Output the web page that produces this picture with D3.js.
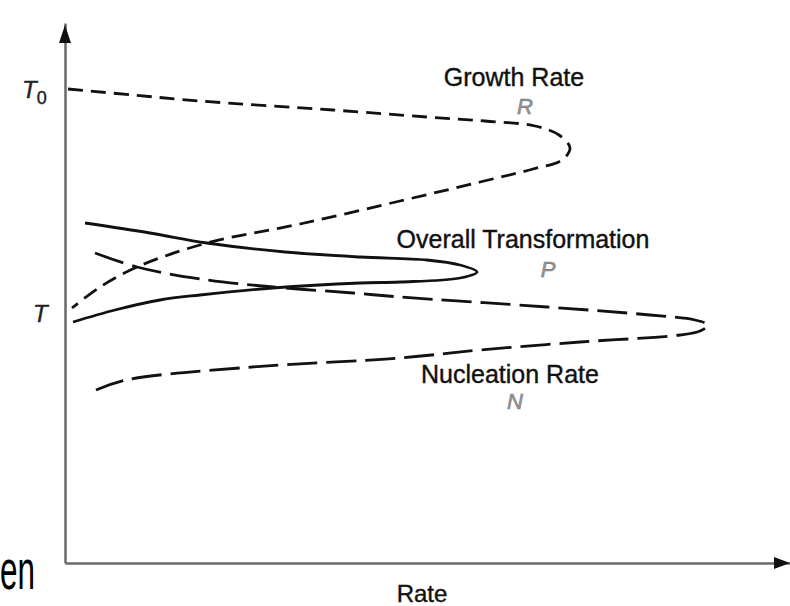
<!DOCTYPE html>
<html>
<head>
<meta charset="utf-8">
<script src="https://cdn.jsdelivr.net/npm/d3@7"></script>
<style>
  html, body { margin: 0; padding: 0; background: #fff; }
  svg { display: block; }
  text { font-family: "Liberation Sans", Arial, Helvetica, sans-serif; }
</style>
</head>
<body>
<svg id="chart" width="790" height="606"></svg>
<script>
// ---- data (rate, temperature) in arbitrary chart units ----
const growthRate = [
  [3,474],[68,468],[135,462],[268,453],[362,446],[420,442],[470,437],
  [494,428],[505,415],[497,403],[468,394],[415,381],[335,362],[235,339],
  [142,320],[72,296],[35,276],[7,255]
];
const overallTransformation = [
  [20,340],[85,330],[142,320],[220,311],[295,306],[362,303],[395,298],
  [412,291],[395,285],[335,281],[295,280],[208,275],[135,268],[95,263],
  [50,253],[8,241]
];
const nucleationRate = [
  [30,310],[72,296],[135,284],[208,276],[288,270],[335,266],[482,256],[585,248],
  [630,243],[643,238],[635,232],[615,228],[515,221],[415,213],[335,205],
  [187,196],[61,183],[31,173]
];
const tempTicks = [
  { name: "T", sub: "0", value: 475 },
  { name: "T", sub: "",  value: 251 }
];
const curveLabels = [
  { title: "Growth Rate",            symbol: "R", tx: 514, ty: 86,  sx: 525, sy: 114 },
  { title: "Overall Transformation", symbol: "P", tx: 523, ty: 248, sx: 548, sy: 277 },
  { title: "Nucleation Rate",        symbol: "N", tx: 510, ty: 383, sx: 515, sy: 409 }
];
const xAxisTitle = "Rate";

// ---- scales ----
const svg = d3.select("#chart");
const x = d3.scaleLinear().domain([0, 725]).range([65, 790]);
const y = d3.scaleLinear().domain([0, 540]).range([563, 23]);

// ---- axes ----
const axisColor = "#6a6a6a";
const gx = svg.append("g").attr("transform", `translate(0,${y(0)})`)
  .call(d3.axisBottom(x).tickValues([]).tickSizeOuter(0));
gx.select(".domain").attr("stroke", axisColor).attr("stroke-width", 2.5);
const gy = svg.append("g").attr("transform", `translate(${x(0)},0)`)
  .call(d3.axisLeft(y).tickValues([]).tickSizeOuter(0));
gy.select(".domain").attr("stroke", axisColor).attr("stroke-width", 2.5);

// arrowheads
const xEnd = x.range()[1], yEnd = y.range()[1];
svg.append("path")
  .attr("d", `M${xEnd},${y(0)} L${xEnd-16},${y(0)-6} L${xEnd-16},${y(0)+6} Z`)
  .attr("fill", "#111");
svg.append("path")
  .attr("d", `M${x(0)},${yEnd+2} L${x(0)-6},${yEnd+20} L${x(0)+6},${yEnd+20} Z`)
  .attr("fill", "#111");

// ---- curves ----
const line = d3.line()
  .x(d => x(d[0])).y(d => y(d[1]))
  .curve(d3.curveCatmullRom.alpha(0.5));

svg.append("path").datum(growthRate)
  .attr("d", line).attr("fill", "none").attr("stroke", "#111")
  .attr("stroke-width", 2.8).attr("stroke-dasharray", "15,8");
svg.append("path").datum(overallTransformation)
  .attr("d", line).attr("fill", "none").attr("stroke", "#111")
  .attr("stroke-width", 2.8);
svg.append("path").datum(nucleationRate)
  .attr("d", line).attr("fill", "none").attr("stroke", "#111")
  .attr("stroke-width", 2.8).attr("stroke-dasharray", "30,9");

// ---- temperature labels ----
tempTicks.forEach(t => {
  const txt = svg.append("text")
    .attr("x", t.sub ? 22 : 33).attr("y", y(t.value) + 10)
    .attr("font-size", 24).attr("fill", "#222")
    .attr("stroke", "#222").attr("stroke-width", 0.4);
  txt.append("tspan").attr("font-style", "italic").text(t.name);
  if (t.sub) txt.append("tspan").attr("font-size", 18).attr("dy", 6).text(t.sub);
});

// ---- curve labels ----
curveLabels.forEach(l => {
  svg.append("text").attr("x", l.tx).attr("y", l.ty)
    .attr("text-anchor", "middle").attr("font-size", 25).attr("fill", "#111")
    .attr("stroke", "#111").attr("stroke-width", 0.4)
    .text(l.title);
  svg.append("text").attr("x", l.sx).attr("y", l.sy)
    .attr("text-anchor", "middle").attr("font-size", 22).attr("font-style", "italic")
    .attr("fill", "#999").attr("stroke", "#777").attr("stroke-width", 0.6)
    .text(l.symbol);
});

// ---- axis title ----
svg.append("text").attr("x", 422).attr("y", 602)
  .attr("text-anchor", "middle").attr("font-size", 24).attr("fill", "#111")
  .attr("stroke", "#111").attr("stroke-width", 0.4)
  .text(xAxisTitle);

// ---- slide fragment ----
svg.append("text").attr("x", 0).attr("y", 589)
  .attr("font-size", 56).attr("fill", "#000")
  .attr("textLength", 35).attr("lengthAdjust", "spacingAndGlyphs")
  .text("en");
</script>
</body>
</html>
